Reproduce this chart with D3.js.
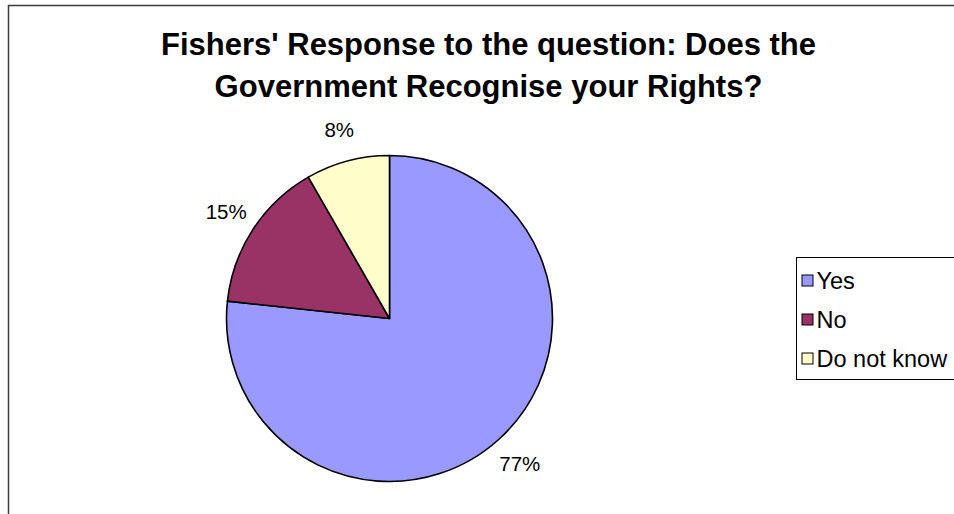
<!DOCTYPE html>
<html>
<head>
<meta charset="utf-8">
<script src="https://cdn.jsdelivr.net/npm/d3@7/dist/d3.min.js"></script>
<style>
  html, body { margin: 0; padding: 0; background: #fff; }
  svg { display: block; font-family: "Liberation Sans", Arial, sans-serif; }
</style>
</head>
<body>
<svg id="chart" width="954" height="514"></svg>
<script>
// ---- data ----
const categories = ["Yes", "No", "Do not know"];
const values = [76.7, 15.0, 8.3];              // percent of fishers
const colors = ["#9999FF", "#993366", "#FFFFCC"];
const titleLines = ["Fishers' Response to the question: Does the", "Government Recognise your Rights?"];

// ---- layout ----
const W = 954, H = 514;
const cx = 389.5, cy = 318.5, R = 163, labelR = 195;

const svg = d3.select("#chart");

// chart area frame (continues past the right/bottom edges)
svg.append("rect")
  .attr("x", 8.5).attr("y", 5.5)
  .attr("width", 1200).attr("height", 800)
  .attr("fill", "#fff")
  .attr("stroke", "#3a3a3a").attr("stroke-width", 1.5);

// title
svg.append("text")
  .attr("x", 488.5).attr("y", 55)
  .attr("text-anchor", "middle")
  .attr("font-size", 31).attr("font-weight", "bold").attr("fill", "#000")
  .selectAll("tspan").data(titleLines).join("tspan")
  .attr("x", 488.5).attr("dy", (d, i) => i === 0 ? 0 : 41.5)
  .text(d => d);

// pie
const data = categories.map((c, i) => ({ cat: c, value: values[i], color: colors[i] }));
const total = d3.sum(values);
const pie = d3.pie().sort(null).value(d => d.value).startAngle(0).endAngle(2 * Math.PI);
const arcs = pie(data);
const arc = d3.arc().innerRadius(0).outerRadius(R);
const labelArc = d3.arc().innerRadius(labelR).outerRadius(labelR);

const g = svg.append("g").attr("transform", `translate(${cx},${cy})`);
g.selectAll("path.slice").data(arcs).join("path")
  .attr("class", "slice")
  .attr("d", arc)
  .attr("fill", d => d.data.color)
  .attr("stroke", "#000").attr("stroke-width", 1.6)
  .attr("stroke-linejoin", "round");

g.selectAll("text.pct").data(arcs).join("text")
  .attr("class", "pct")
  .attr("transform", d => {
    const [x, y] = labelArc.centroid(d);
    return `translate(${x},${y})`;
  })
  .attr("text-anchor", "middle")
  .attr("dy", "0.35em")
  .attr("font-size", 20.5).attr("fill", "#000")
  .text(d => Math.round(d.data.value / total * 100) + "%");

// legend
const legX = 796.5, legY = 257.5, rowH = 39, sw = 11;
const leg = svg.append("g");
leg.append("rect")
  .attr("x", legX).attr("y", legY)
  .attr("width", 400).attr("height", 122)
  .attr("fill", "#fff").attr("stroke", "#000").attr("stroke-width", 1);
const rows = leg.selectAll("g.row").data(data).join("g")
  .attr("class", "row")
  .attr("transform", (d, i) => `translate(${legX + 5},${legY + 23 + i * rowH})`);
rows.append("rect")
  .attr("x", 0.5).attr("y", -5.5)
  .attr("width", sw).attr("height", sw)
  .attr("fill", d => d.color).attr("stroke", "#000").attr("stroke-width", 1);
rows.append("text")
  .attr("x", 15).attr("y", 0).attr("dy", "0.35em")
  .attr("font-size", 23.5).attr("fill", "#000")
  .text(d => d.cat);
</script>
</body>
</html>
